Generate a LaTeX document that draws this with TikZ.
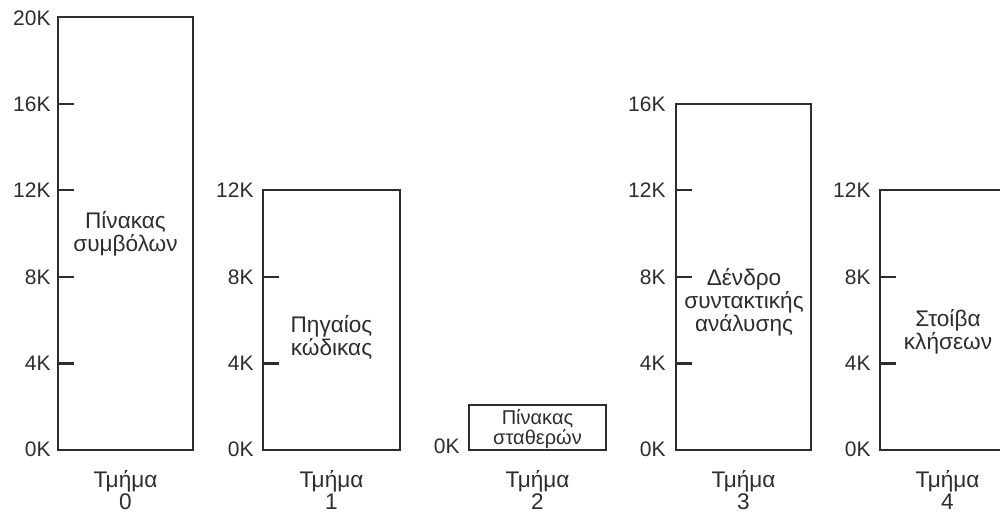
\documentclass[tikz,border=0pt]{standalone}
\usepackage{fontspec}
\setmainfont{Liberation Sans}
\definecolor{ink}{RGB}{45,45,45}
\begin{document}
\begin{tikzpicture}[x=0.5pt,y=-0.5pt,
  seg/.style={draw=ink, line width=1.1pt},
  tickmark/.style={draw=ink, line width=1.1pt},
  ax/.style={anchor=east, inner sep=0pt, text=ink, font=\fontsize{10.5}{11}\selectfont},
  lab/.style={align=center, inner sep=0pt, text=ink, font=\fontsize{11.3}{11.5}\selectfont},
  smalllab/.style={align=center, inner sep=0pt, text=ink, font=\fontsize{10}{10}\selectfont},
  seglab/.style={anchor=base, inner sep=0pt, text=ink, font=\fontsize{11.3}{12}\selectfont}]
\useasboundingbox (0,0) rectangle (1000,511);
\clip (0,0) rectangle (1000,511);
% Segment 0
\draw[seg] (58,17) rectangle (193,450);
\foreach \y in {104,190,277,363.5} \draw[tickmark] (58,\y) -- (74,\y);
\node[ax] (a0k20) at (51,18) {20K};
\node[ax] (a0k16) at (51,104) {16K};
\node[ax] (a0k12) at (51,190) {12K};
\node[ax] (a0k8) at (51,277) {8K};
\node[ax] (a0k4) at (51,363.5) {4K};
\node[ax] (a0k0) at (51,449) {0K};
\node[lab] (b0) at (125.5,234) {Πίνακας\\συμβόλων};
\node[seglab] (t0) at (125.5,487) {Τμήμα};
\node[seglab] (n0) at (125.5,509) {0};
% Segment 1
\draw[seg] (263,190) rectangle (400,450);
\foreach \y in {277,363.5} \draw[tickmark] (263,\y) -- (279,\y);
\node[ax] (a1k12) at (254,190) {12K};
\node[ax] (a1k8) at (254,277) {8K};
\node[ax] (a1k4) at (254,363.5) {4K};
\node[ax] (a1k0) at (254,449) {0K};
\node[lab] (b1) at (331.5,337) {Πηγαίος\\κώδικας};
\node[seglab] (t1) at (331.5,487) {Τμήμα};
\node[seglab] (n1) at (331.5,509) {1};
% Segment 2
\draw[seg] (469,405) rectangle (606,450);
\node[ax] (a2k0) at (460,446) {0K};
\node[smalllab] (b2) at (537.5,429.5) {Πίνακας\\σταθερών};
\node[seglab] (t2) at (537.5,487) {Τμήμα};
\node[seglab] (n2) at (537.5,509) {2};
% Segment 3
\draw[seg] (676,104) rectangle (811,450);
\foreach \y in {190,277,363.5} \draw[tickmark] (676,\y) -- (692,\y);
\node[ax] (a3k16) at (666,104) {16K};
\node[ax] (a3k12) at (666,190) {12K};
\node[ax] (a3k8) at (666,277) {8K};
\node[ax] (a3k4) at (666,363.5) {4K};
\node[ax] (a3k0) at (666,449) {0K};
\node[lab] (b3) at (744,302) {Δένδρο\\συντακτικής\\ανάλυσης};
\node[seglab] (t3) at (743.5,487) {Τμήμα};
\node[seglab] (n3) at (743.5,509) {3};
% Segment 4
\draw[seg] (880,190) rectangle (1015,450);
\foreach \y in {277,363.5} \draw[tickmark] (880,\y) -- (896,\y);
\node[ax] (a4k12) at (871,190) {12K};
\node[ax] (a4k8) at (871,277) {8K};
\node[ax] (a4k4) at (871,363.5) {4K};
\node[ax] (a4k0) at (871,449) {0K};
\node[lab] (b4) at (948,332) {Στοίβα\\κλήσεων};
\node[seglab] (t4) at (947.5,487) {Τμήμα};
\node[seglab] (n4) at (947.5,509) {4};
\end{tikzpicture}
\end{document}
